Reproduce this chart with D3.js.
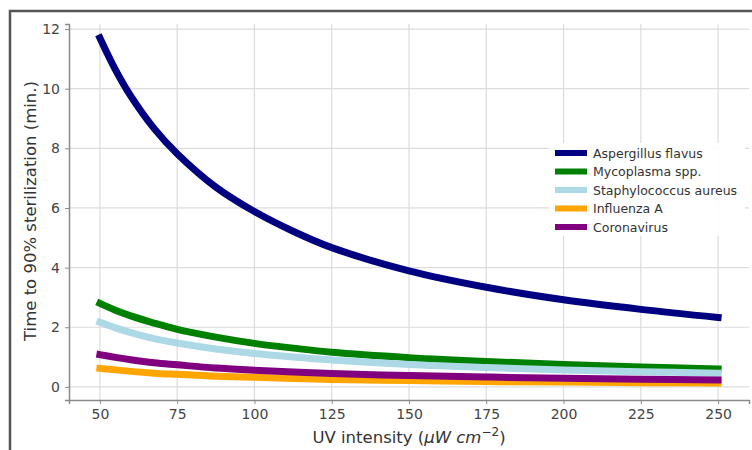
<!DOCTYPE html>
<html>
<head>
<meta charset="utf-8">
<script src="https://cdn.jsdelivr.net/npm/d3@7"></script>
<style>
  body { margin: 0; background: #fff; }
  svg { display: block; font-family: "DejaVu Sans", sans-serif; }
</style>
</head>
<body>
<script>
// UV intensity vs time to 90% sterilization

var intensity = [50, 55, 60, 67.5, 75, 87.5, 100, 112.5, 125, 150, 175, 200, 225, 250];

var aspergillus   = [11.7, 10.64, 9.75, 8.67, 7.82, 6.7, 5.88, 5.22, 4.67, 3.89, 3.34, 2.92, 2.6, 2.33];
var mycoplasma    = [2.8, 2.57, 2.38, 2.14, 1.93, 1.67, 1.46, 1.3, 1.16, 0.98, 0.85, 0.75, 0.67, 0.6];
var staphylococcus = [2.17, 1.98, 1.82, 1.62, 1.47, 1.27, 1.12, 1.0, 0.9, 0.75, 0.65, 0.57, 0.51, 0.46];
var influenza     = [0.62, 0.57, 0.52, 0.46, 0.42, 0.36, 0.32, 0.28, 0.25, 0.21, 0.18, 0.16, 0.14, 0.13];
var coronavirus   = [1.08, 0.99, 0.91, 0.81, 0.74, 0.63, 0.56, 0.5, 0.45, 0.38, 0.33, 0.29, 0.26, 0.23];

var seriesNames  = ["Aspergillus flavus", "Mycoplasma spp.", "Staphylococcus aureus", "Influenza A", "Coronavirus"];
var seriesColors = ["#000080", "#008000", "#add8e6", "#ffa500", "#800080"];
var seriesValues = [aspergillus, mycoplasma, staphylococcus, influenza, coronavirus];

var xTicks = [50, 75, 100, 125, 150, 175, 200, 225, 250];
var yTicks = [0, 2, 4, 6, 8, 10, 12];

var W = 752, H = 450;
var plotLeft = 69, plotTop = 24, plotRight = 749, plotBottom = 400;

var svg = d3.select("body").append("svg").attr("width", W).attr("height", H);

// outer frame of the picture
svg.append("rect")
    .attr("x", 10).attr("y", 11)
    .attr("width", W + 20).attr("height", H + 20)
    .style("fill", "none").style("stroke", "#555").style("stroke-width", 2.5);

var x = d3.scaleLinear().domain([40, 260]).range([plotLeft, plotRight]);
var y = d3.scaleLinear().domain([-0.44, 12.17]).range([plotBottom, plotTop]);

// grid
var grid = svg.append("g");
grid.selectAll(".vg").data(xTicks).enter().append("line")
    .attr("x1", d => x(d)).attr("x2", d => x(d))
    .attr("y1", plotTop).attr("y2", plotBottom)
    .style("stroke", "#dcdcdc").style("stroke-width", 1.2);
grid.selectAll(".hg").data(yTicks).enter().append("line")
    .attr("x1", plotLeft).attr("x2", plotRight)
    .attr("y1", d => y(d)).attr("y2", d => y(d))
    .style("stroke", "#dcdcdc").style("stroke-width", 1.2);

// axes
var xAxis = svg.append("g").attr("transform", "translate(0," + plotBottom + ")")
    .call(d3.axisBottom(x).tickValues(xTicks).tickSize(4).tickPadding(5));
var yAxis = svg.append("g").attr("transform", "translate(" + plotLeft + ",0)")
    .call(d3.axisLeft(y).tickValues(yTicks).tickSize(4).tickPadding(5));

[xAxis, yAxis].forEach(function (a) {
    a.select(".domain").style("stroke", "#8a8a8a").style("stroke-width", 1.5);
    a.selectAll(".tick line").style("stroke", "#8a8a8a");
    a.selectAll(".tick text").style("fill", "#444").style("font-size", "14px")
        .style("font-family", "DejaVu Sans, sans-serif");
});

// curves
var line = d3.line()
    .x((d, i) => x(intensity[i]))
    .y(d => y(d))
    .curve(d3.curveCatmullRom.alpha(0.5));

for (var s = 0; s < seriesValues.length; s++) {
    svg.append("path")
        .attr("d", line(seriesValues[s]))
        .style("fill", "none")
        .style("stroke", seriesColors[s])
        .style("stroke-width", 7)
        .style("stroke-linecap", "square");
}

// legend
var legend = svg.append("g");
legend.append("rect")
    .attr("x", 549).attr("y", 143).attr("width", 196).attr("height", 93)
    .style("fill", "#fff").style("fill-opacity", 0.9);
for (var k = 0; k < seriesNames.length; k++) {
    var ly = 153 + k * 18.5;
    legend.append("line")
        .attr("x1", 555).attr("x2", 587).attr("y1", ly).attr("y2", ly)
        .style("stroke", seriesColors[k]).style("stroke-width", 6);
    legend.append("text")
        .attr("x", 593).attr("y", ly + 4.5)
        .style("font-size", "12.5px").style("fill", "#333")
        .text(seriesNames[k]);
}

// axis labels
var xl = svg.append("text")
    .attr("x", 409).attr("y", 443)
    .attr("text-anchor", "middle")
    .style("font-size", "16.5px").style("fill", "#333");
xl.append("tspan").text("UV intensity (");
xl.append("tspan").style("font-style", "italic").text("μW");
xl.append("tspan").text(" ");
xl.append("tspan").style("font-style", "italic").text("cm");
xl.append("tspan").attr("dy", -7).style("font-size", "12px").text("−2");
xl.append("tspan").attr("dy", 7).text(")");

svg.append("text")
    .attr("transform", "translate(36,211) rotate(-90)")
    .attr("text-anchor", "middle")
    .style("font-size", "16.5px").style("fill", "#333")
    .text("Time to 90% sterilization (min.)");
</script>
</body>
</html>
